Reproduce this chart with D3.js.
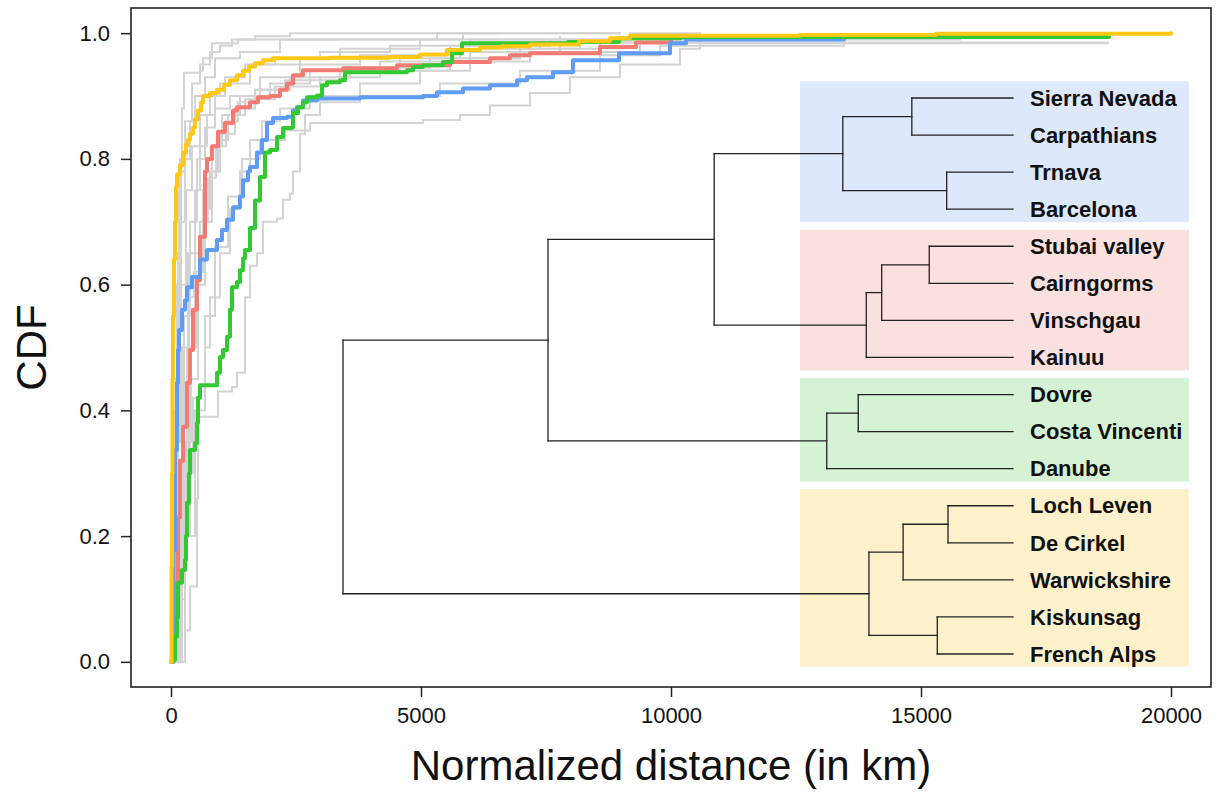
<!DOCTYPE html>
<html>
<head>
<meta charset="utf-8">
<script src="https://cdn.jsdelivr.net/npm/d3@7"></script>
<style>
  body { margin: 0; background: #fff; }
  svg { display: block; font-family: "Liberation Sans", Arial, Helvetica, sans-serif; }
</style>
</head>
<body>
<div class="graph-container"></div>
<script>
// ---- data ----
const distanceTicks = [0, 5000, 10000, 15000, 20000];
const cdfTicks = [0, 0.2, 0.4, 0.6, 0.8, 1.0];

// cumulative curves, [distance km, cdf]
const yellowCdf = [[0,0],[10,0.15],[20,0.3],[30,0.45],[40,0.55],[60,0.64],[80,0.7],[100,0.755],[120,0.775],[180,0.79],[240,0.81],[300,0.822],[340,0.83],[380,0.84],[440,0.85],[480,0.863],[540,0.877],[600,0.89],[640,0.9],[780,0.905],[920,0.91],[1060,0.918],[1180,0.925],[1320,0.933],[1440,0.94],[1560,0.947],[1680,0.952],[1840,0.957],[2040,0.96],[3180,0.961],[4380,0.962],[4980,0.966],[5520,0.973],[6180,0.977],[6620,0.979],[7180,0.982],[8160,0.987],[8780,0.992],[9180,0.996],[12580,0.997],[15300,0.999],[20000,1.0]];
const redCdf = [[0,0],[40,0.02],[80,0.126],[140,0.23],[180,0.32],[240,0.374],[320,0.444],[380,0.496],[440,0.56],[520,0.607],[580,0.676],[680,0.78],[720,0.8],[820,0.82],[940,0.843],[1080,0.857],[1240,0.877],[1320,0.882],[1580,0.89],[1740,0.898],[1980,0.9],[2180,0.91],[2320,0.92],[2440,0.933],[2640,0.941],[3440,0.944],[4520,0.949],[5580,0.954],[6380,0.96],[6780,0.965],[7180,0.968],[8580,0.978],[9300,0.985],[10000,0.99]];
const blueCdf = [[0,0],[40,0.02],[50,0.178],[80,0.337],[120,0.444],[140,0.496],[160,0.528],[220,0.56],[280,0.575],[320,0.596],[420,0.612],[580,0.64],[720,0.655],[920,0.671],[1020,0.687],[1120,0.703],[1240,0.723],[1380,0.74],[1440,0.766],[1540,0.78],[1580,0.787],[1720,0.81],[1820,0.83],[1920,0.857],[2040,0.865],[2320,0.867],[2440,0.877],[2520,0.882],[2640,0.893],[2920,0.896],[3780,0.898],[5040,0.9],[5320,0.906],[5840,0.912],[6380,0.917],[6920,0.925],[7120,0.93],[7640,0.938],[8040,0.957],[8960,0.968],[9980,0.984],[10300,0.99],[13460,0.99]];
const greenCdf = [[20,0],[40,0.003],[80,0.04],[120,0.07],[140,0.126],[220,0.146],[280,0.162],[300,0.2],[320,0.253],[360,0.3],[380,0.337],[480,0.348],[520,0.38],[540,0.42],[580,0.44],[920,0.46],[980,0.485],[1040,0.496],[1120,0.517],[1180,0.56],[1220,0.596],[1320,0.604],[1380,0.623],[1440,0.642],[1480,0.655],[1580,0.69],[1680,0.734],[1780,0.771],[1880,0.81],[1980,0.814],[2120,0.835],[2240,0.849],[2420,0.85],[2440,0.873],[2540,0.882],[2640,0.89],[2720,0.898],[2920,0.901],[3020,0.917],[3120,0.922],[3380,0.925],[3480,0.938],[4720,0.941],[4840,0.946],[5040,0.949],[5440,0.954],[5620,0.968],[5820,0.984],[7940,0.986],[8960,0.992],[10200,0.994],[18760,0.997]];

// individual sites (grey)
const siteA = [[0,0],[40,0.15],[80,0.4],[120,0.6],[160,0.75],[180,0.8],[220,0.88],[260,0.937],[580,0.94],[640,0.96],[820,0.984],[1340,0.99],[5320,1.0],[9000,1.0]];
const siteB = [[20,0],[80,0.3],[140,0.55],[200,0.7],[280,0.8],[380,0.86],[480,0.9],[680,0.93],[880,0.96],[1380,0.97],[2180,0.99],[5840,1.0],[9000,1.0]];
const siteC = [[20,0],[100,0.35],[180,0.6],[300,0.75],[420,0.82],[580,0.87],[780,0.9],[980,0.92],[1580,0.95],[2580,0.96],[3380,0.975],[4980,0.99],[9180,1.0],[10600,1.0]];
const siteD = [[40,0],[140,0.3],[260,0.55],[380,0.7],[520,0.8],[680,0.85],[880,0.88],[1180,0.9],[1780,0.93],[2580,0.95],[3780,0.965],[5580,0.98],[7580,0.99],[13460,0.993]];
const siteE = [[40,0],[180,0.3],[340,0.5],[480,0.65],[640,0.75],[820,0.82],[1020,0.87],[1380,0.9],[1980,0.92],[2780,0.94],[4180,0.955],[5980,0.97],[7780,0.985],[9780,0.99],[15800,0.99]];
const siteF = [[60,0],[220,0.25],[380,0.45],[540,0.6],[680,0.7],[820,0.78],[980,0.84],[1280,0.88],[1680,0.91],[2380,0.93],[3580,0.945],[5180,0.96],[6980,0.975],[8580,0.985],[18760,0.985]];
const siteG = [[60,0],[200,0.2],[300,0.35],[400,0.5],[500,0.62],[640,0.72],[780,0.78],[940,0.83],[1140,0.87],[1480,0.895],[2080,0.915],[2980,0.93],[4180,0.94],[5580,0.955],[7180,0.97],[9380,0.985],[10580,0.99]];
const siteH = [[80,0],[280,0.2],[480,0.4],[680,0.55],[880,0.66],[1140,0.74],[1420,0.8],[1780,0.83],[2280,0.845],[2780,0.857],[5040,0.862],[5780,0.87],[6380,0.885],[7180,0.905],[7980,0.93],[8980,0.95],[10180,0.975],[10580,0.984],[18760,0.984]];
const siteI = [[100,0],[280,0.05],[380,0.12],[520,0.26],[540,0.39],[880,0.39],[940,0.43],[1220,0.437],[1320,0.46],[1480,0.58],[1580,0.63],[1720,0.65],[1840,0.7],[2120,0.705],[2240,0.735],[2380,0.745],[2440,0.78],[2580,0.84],[2680,0.87],[2980,0.89],[3780,0.9],[5380,0.92],[6980,0.94],[8580,0.965],[9780,0.98],[13460,0.99]];
const siteJ = [[80,0],[180,0.1],[280,0.2],[380,0.3],[440,0.42],[580,0.44],[680,0.5],[780,0.58],[980,0.65],[1180,0.72],[1380,0.78],[1580,0.83],[1820,0.86],[2180,0.88],[2780,0.9],[3780,0.92],[4980,0.94],[5980,0.96],[6980,0.975],[8180,0.985],[9380,0.99]];
const siteK = [[20,0],[60,0.2],[100,0.45],[140,0.65],[200,0.78],[280,0.86],[420,0.92],[580,0.95],[780,0.97],[980,0.98],[1220,0.99],[1680,0.995],[2380,1.0],[6580,1.0]];
const siteL = [[40,0],[120,0.25],[220,0.5],[340,0.65],[480,0.75],[580,0.82],[720,0.87],[880,0.9],[1080,0.93],[1480,0.95],[2080,0.96],[2980,0.97],[4380,0.98],[5980,0.99],[7780,0.995]];
const siteM = [[60,0],[160,0.15],[260,0.35],[320,0.5],[360,0.58],[460,0.62],[580,0.7],[740,0.77],[900,0.82],[1100,0.86],[1340,0.89],[1680,0.91],[2280,0.925],[3380,0.94],[4580,0.96],[5780,0.975],[7380,0.985],[8980,0.99],[10580,0.992]];
const siteCurves = [siteA, siteB, siteC, siteD, siteE, siteF, siteG, siteH, siteI, siteJ, siteK, siteL, siteM];

// dendrogram: leaves top to bottom, hclust-like merges (neg = leaf, pos = merge row), height 0..1
const leafNames = ['Sierra Nevada', 'Carpathians', 'Trnava', 'Barcelona', 'Stubai valley', 'Cairngorms', 'Vinschgau', 'Kainuu', 'Dovre', 'Costa Vincenti', 'Danube', 'Loch Leven', 'De Cirkel', 'Warwickshire', 'Kiskunsag', 'French Alps'];
const merges = [
    [-1, -2, 0.151], [-3, -4, 0.099], [1, 2, 0.254],
    [-5, -6, 0.125], [4, -7, 0.196], [5, -8, 0.219],
    [3, 6, 0.446],
    [-9, -10, 0.231], [8, -11, 0.278],
    [-12, -13, 0.097], [10, -14, 0.164], [-15, -16, 0.113], [11, 12, 0.215],
    [7, 9, 0.694], [14, 13, 1.0]
];
const groupFirst = [0, 4, 8, 11];
const groupLast = [3, 7, 10, 15];
const groupFills = ['#dde8fb', '#fbe0e0', '#d5f2d5', '#fdf1cb'];

// ---- layout ----
const W = 1222, H = 793;
const margin = { top: 8, right: 11, bottom: 106, left: 131 };
const innerW = W - margin.left - margin.right;
const innerH = H - margin.top - margin.bottom;
const ink = '#222';

const svg = d3.select('div.graph-container')
    .append('svg')
    .attr('width', W)
    .attr('height', H);

const g = svg.append('g').attr('transform', `translate(${margin.left},${margin.top})`);

const x = d3.scaleLinear().domain([-800, 20800]).range([0, innerW]);
const y = d3.scaleLinear().domain([-0.04, 1.04]).range([innerH, 0]);

g.append('clipPath').attr('id', 'plot-clip')
    .append('rect').attr('width', innerW).attr('height', innerH);

// axes
const xAxis = g.append('g')
    .attr('transform', `translate(0,${innerH})`)
    .call(d3.axisBottom(x).tickValues(distanceTicks).tickFormat(d3.format('d')).tickSize(10).tickPadding(10));
const yAxis = g.append('g')
    .call(d3.axisLeft(y).tickValues(cdfTicks).tickFormat(d3.format('.1f')).tickSize(10).tickPadding(11));
[xAxis, yAxis].forEach(a => {
    a.select('.domain').remove();
    a.selectAll('line').attr('stroke', ink).attr('stroke-width', 1.5);
    a.selectAll('text').attr('font-size', 22).attr('fill', '#111')
        .attr('font-family', '"Liberation Sans", Arial, sans-serif');
});

// curves
const line = d3.line()
    .x(d => x(d[0]))
    .y(d => y(d[1]))
    .curve(d3.curveStepAfter);

const curves = g.append('g').attr('clip-path', 'url(#plot-clip)');
curves.selectAll('path.site')
    .data(siteCurves)
    .enter()
    .append('path')
    .attr('class', 'site')
    .attr('d', line)
    .attr('fill', 'none')
    .attr('stroke', '#d3d3d3')
    .attr('stroke-width', 2);

const groupCurves = [
    { values: redCdf, color: '#f47b72' },
    { values: blueCdf, color: '#5e9cf7' },
    { values: greenCdf, color: '#33c933' },
    { values: yellowCdf, color: '#ffc814' }
];
curves.selectAll('path.group')
    .data(groupCurves)
    .enter()
    .append('path')
    .attr('class', 'group')
    .attr('d', d => line(d.values))
    .attr('fill', 'none')
    .attr('stroke', d => d.color)
    .attr('stroke-width', 4)
    .attr('stroke-linejoin', 'round')
    .attr('stroke-linecap', 'round');

// dendrogram overlay (placed in distance units of the plot)
const hx = d3.scaleLinear().domain([0, 1]).range([x(16840), x(3440)]);
const ly = d3.scalePoint().domain(leafNames).range([98 - margin.top, 654 - margin.top]);
const step = ly.step();

const dendro = g.append('g');
dendro.selectAll('rect')
    .data(groupFirst)
    .enter()
    .append('rect')
    .attr('x', x(12580))
    .attr('width', x(20360) - x(12580))
    .attr('y', d => ly(leafNames[d]) - 0.45 * step)
    .attr('height', (d, i) => ly(leafNames[groupLast[i]]) - ly(leafNames[d]) + 0.8 * step)
    .attr('fill', (d, i) => groupFills[i]);

const nodePos = [];
const pos = id => id < 0
    ? { x: hx(0), y: ly(leafNames[-id - 1]) }
    : nodePos[id - 1];
const segs = [];
merges.forEach(([a, b, h]) => {
    const pa = pos(a), pb = pos(b), px = hx(h);
    segs.push([px, pa.y, px, pb.y], [px, pa.y, pa.x, pa.y], [px, pb.y, pb.x, pb.y]);
    nodePos.push({ x: px, y: (pa.y + pb.y) / 2 });
});
dendro.selectAll('line')
    .data(segs)
    .enter()
    .append('line')
    .attr('x1', d => d[0]).attr('y1', d => d[1])
    .attr('x2', d => d[2]).attr('y2', d => d[3])
    .attr('stroke', ink)
    .attr('stroke-width', 1.3)
    .attr('stroke-linecap', 'square');

dendro.selectAll('text')
    .data(leafNames)
    .enter()
    .append('text')
    .attr('x', hx(0) + 17)
    .attr('y', d => ly(d))
    .attr('dy', '0.35em')
    .attr('font-size', 22)
    .attr('font-weight', 'bold')
    .attr('fill', '#111')
    .text(d => d);

// frame
g.append('rect')
    .attr('width', innerW)
    .attr('height', innerH)
    .attr('fill', 'none')
    .attr('stroke', ink)
    .attr('stroke-width', 1.6);

// titles
svg.append('text')
    .attr('x', margin.left + innerW / 2)
    .attr('y', 780)
    .attr('text-anchor', 'middle')
    .attr('font-size', 42)
    .attr('fill', '#111')
    .text('Normalized distance (in km)');

svg.append('text')
    .attr('transform', `translate(46,${margin.top + innerH / 2}) rotate(-90)`)
    .attr('text-anchor', 'middle')
    .attr('font-size', 42)
    .attr('fill', '#111')
    .text('CDF');
</script>
</body>
</html>
